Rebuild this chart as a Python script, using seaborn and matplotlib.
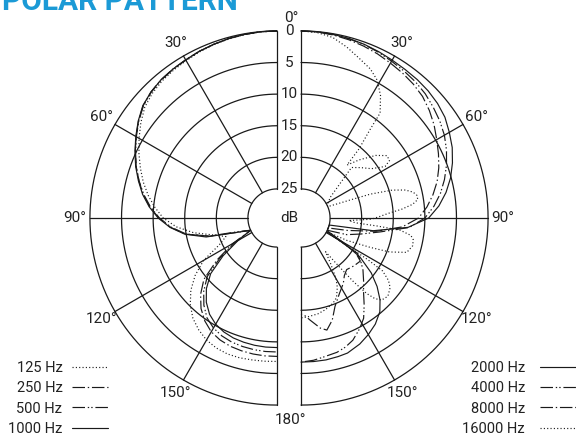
import numpy as np
import matplotlib
matplotlib.use("Agg")
import matplotlib.pyplot as plt
import seaborn as sns

sns.set_theme(style="white")
plt.rcParams["font.family"] = ["Roboto", "DejaVu Sans"]
plt.rcParams["lines.scale_dashes"] = False

# grid values
db_rings = [0, 5, 10, 15, 20, 25]
spoke_angles = [30, 60, 90, 120, 150]

# left half: low frequencies (angle in deg, attenuation in dB)
ang_left = [0, 5, 10, 15, 20, 25, 30, 35, 40, 45, 50, 55, 60, 65, 70, 75, 80, 85, 90,
            95, 100, 105, 110, 115, 120, 125, 130, 135, 140, 145, 150, 155, 160, 165, 170, 175, 180]
att_125 = [0, 0.03, 0.12, 0.25, 0.4, 0.6, 0.85, 1.05, 1.3, 1.7, 2.3, 3.3, 4.4, 5.5, 6.6, 7.7, 8.9, 10.2, 11.6,
           13.6, 16.2, 19.2, 21, 19.5, 16.2, 13.8, 11.8, 10.2, 8.9, 8.0, 7.3, 6.9, 6.7, 6.7, 6.8, 6.85, 6.9]
att_250 = [0, 0.02, 0.1, 0.2, 0.35, 0.5, 0.7, 0.85, 1.05, 1.4, 1.95, 2.85, 3.85, 4.85, 5.9, 7.0, 8.1, 9.4, 10.9,
           12.7, 14.9, 18.5, 23, 25, 21.5, 18.0, 14.5, 12.5, 10.9, 9.7, 8.8, 8.3, 8.0, 7.85, 7.75, 7.7, 7.7]
att_500 = [0, 0.02, 0.1, 0.2, 0.35, 0.5, 0.75, 0.9, 1.1, 1.45, 2.0, 2.9, 3.9, 4.9, 5.9, 7.0, 8.2, 9.5, 11.0,
           12.8, 15.0, 18.5, 23.5, 25, 22, 18.6, 15.2, 13.2, 11.6, 10.3, 9.5, 9.0, 8.7, 8.55, 8.45, 8.4, 8.4]
att_1000 = [0, 0.02, 0.1, 0.2, 0.35, 0.5, 0.7, 0.85, 1.05, 1.4, 1.9, 2.8, 3.8, 4.8, 5.8, 6.9, 8.0, 9.3, 10.8,
            12.6, 14.8, 18.0, 23.0, 25, 22.5, 19.2, 15.9, 13.8, 12.2, 11.0, 10.2, 9.7, 9.4, 9.25, 9.15, 9.1, 9.1]

# right half: high frequencies
ang_2000 = [0, 5, 10, 15, 20, 25, 30, 35, 40, 45, 50, 55, 60, 65, 70, 75, 80, 85, 90, 95, 100,
            104, 116, 120, 123.5, 128, 132, 136, 140, 145, 150, 155, 161, 165, 170, 175, 180]
att_2000 = [0, 0.02, 0.1, 0.2, 0.35, 0.55, 0.75, 0.9, 1.0, 1.15, 1.4, 1.8, 2.5, 3.2, 4.1, 5.1, 6.3, 7.7, 9.4, 12.6, 18,
            25, 25, 22, 18.4, 15.5, 13.4, 11.6, 10.2, 9.1, 8.3, 7.6, 7.0, 6.9, 6.8, 6.8, 6.8]
ang_4000 = [0, 5, 10, 15, 20, 25, 30, 35, 40, 45, 50, 55, 60, 65, 70, 75, 80, 85, 90, 95, 100,
            105, 110, 115, 118, 122, 126, 130, 135, 140, 144, 148, 152, 157, 161, 165, 171, 175, 180]
att_4000 = [0, 0.03, 0.12, 0.25, 0.4, 0.65, 0.95, 1.2, 1.45, 1.8, 2.3, 2.8, 3.4, 4.2, 5.1, 6.1, 7.2, 8.5, 10.0, 12.4, 16.9,
            19.8, 21.9, 25, 25, 19.1, 17.9, 16.8, 15.6, 14.2, 12.6, 10.9, 9.8, 8.6, 8.0, 7.6, 7.3, 7.0, 6.8]
ang_8000 = [0, 5, 10, 15, 20, 25, 30, 35, 40, 45, 50, 55, 60, 65, 70, 75, 80, 85, 90, 95, 100,
            105, 110, 118, 122, 126, 132, 138.5, 143, 147, 153, 159, 163, 167, 170, 175, 178, 180]
att_8000 = [0, 0.05, 0.2, 0.4, 0.65, 0.95, 1.3, 1.6, 1.95, 2.4, 3.1, 3.9, 4.8, 5.6, 6.4, 7.3, 8.4, 9.6, 11.0, 13.5, 17.5,
            22, 25, 25, 19.5, 18.0, 18.3, 18.7, 18.2, 17.3, 16.2, 14.6, 12.7, 11.4, 11.9, 13.4, 14.2, 14.4]
ang_16000 = [0, 5, 10, 15, 20, 25, 29, 33, 37, 38, 40, 41,
             45, 50, 54, 57, 58.5, 55, 50, 45, 48, 55, 65,
             67, 69, 70, 71, 73, 75, 77, 79, 81, 83, 85, 87, 89, 91, 93,
             95, 96, 97, 99, 101, 104, 108, 111, 113, 116, 118,
             121, 122, 123, 125.5, 128, 132, 135.5, 137.5, 139, 140.5, 142, 144,
             147, 150, 152.4, 156, 159.4, 165, 170, 176.5, 180]
att_16000 = [0, 0.15, 0.6, 1.6, 2.7, 3.6, 4.7, 6.5, 8.8, 11.9, 15.3, 18.5,
             16.6, 14.2, 12.8, 12.9, 14.0, 16.0, 17.2, 18.3, 21, 24, 25,
             25, 23, 21, 18, 14.5, 12.5, 11.4, 10.9, 10.9, 11.8, 13.6, 15.8, 17.2, 18.5, 22,
             21, 17.5, 13.8, 12.0, 11.5, 11.4, 12.0, 14.6, 17.7, 21.5, 25,
             21, 17, 14.2, 12.6, 11.7, 11.1, 11.4, 12.3, 13.8, 16.5, 20, 23,
             21, 18.5, 17.2, 15.8, 15.2, 14.6, 14.2, 13.9, 13.8]

left_curves = [("125 Hz", ang_left, att_125, (0, (0.8, 1.6))),
               ("250 Hz", ang_left, att_250, (0, (9, 2, 1, 2))),
               ("500 Hz", ang_left, att_500, (0, (9, 2, 1, 1.5, 1, 2))),
               ("1000 Hz", ang_left, att_1000, "-")]
right_curves = [("2000 Hz", ang_2000, att_2000, "-"),
                ("4000 Hz", ang_4000, att_4000, (0, (9, 2, 1, 1.5, 1, 2))),
                ("8000 Hz", ang_8000, att_8000, (0, (9, 2, 1, 2))),
                ("16000 Hz", ang_16000, att_16000, (0, (0.8, 1.6)))]

# geometry (1 unit = 1 dB)
R_IN = 4.6
R_OUT = R_IN + 25
GAP = 1.9
INK = "#1a1a1a"
TXT = "#222222"


def to_xy(theta, att, side):
    th = np.radians(np.asarray(theta, dtype=float))
    r = R_IN + 25 - np.clip(np.asarray(att, dtype=float), 0, 25)
    return side * (GAP + r * np.sin(th)), r * np.cos(th)


fig = plt.figure(figsize=(5.76, 4.41), dpi=100)
ax = fig.add_axes([0, 0, 1, 1])
ax.set_xlim(-289 / 6.32, 287 / 6.32)
ax.set_ylim(-223 / 6.32, 218 / 6.32)
ax.set_axis_off()

# polar grid, two half-discs
half = np.linspace(0, 180, 181)
for side in (-1, 1):
    for db in db_rings:
        x, y = to_xy(half, np.full_like(half, db), side)
        ax.plot(x, y, color=INK, lw=0.9)
    for a in [0] + spoke_angles + [180]:
        x, y = to_xy([a, a], [0, 25], side)
        ax.plot(x, y, color=INK, lw=0.9)

# curves
handles = {}
for side, curves in ((-1, left_curves), (1, right_curves)):
    for label, ang, att, ls in curves:
        x, y = to_xy(ang, att, side)
        sns.lineplot(x=x, y=y, sort=False, estimator=None, color=INK, lw=0.85,
                     linestyle=ls, ax=ax, legend=False)
        line = ax.get_lines()[-1]
        line.set_label(label)
        handles[label] = line

# ring labels and angle labels
for db in db_rings:
    ax.text(0, R_IN + 25 - db, str(db), ha="center", va="center", fontsize=11, color=TXT)
ax.text(0, 0, "dB", ha="center", va="center", fontsize=11, color=TXT)
ax.text(0.3, 31.6, "0°", ha="center", va="center", fontsize=11, color=TXT)
ax.text(0.3, -31.9, "180°", ha="center", va="center", fontsize=11, color=TXT)
for side in (-1, 1):
    for a in spoke_angles:
        th = np.radians(a)
        ax.text(side * (GAP + 32 * np.sin(th)), 32 * np.cos(th), f"{a}°",
                ha="center", va="center", fontsize=11, color=TXT)

# legends
leg1 = ax.legend(handles=[handles[c[0]] for c in left_curves], loc="lower right",
                 bbox_to_anchor=(108 / 576, 5 / 441), bbox_transform=fig.transFigure,
                 markerfirst=False, frameon=False, fontsize=10.5, labelspacing=0.44,
                 handlelength=2.5, handletextpad=0.62, borderpad=0, borderaxespad=0,
                 labelcolor=TXT)
ax.add_artist(leg1)
ax.legend(handles=[handles[c[0]] for c in right_curves], loc="lower right",
          bbox_to_anchor=(1.0, 5 / 441), bbox_transform=fig.transFigure,
          markerfirst=False, frameon=False, fontsize=10.5, labelspacing=0.44,
          handlelength=2.5, handletextpad=1.0, borderpad=0, borderaxespad=0,
          labelcolor=TXT)

fig.text(2 / 576, 1 - 10 / 441, "POLAR PATTERN", color="#1b9ad6", fontsize=21.5,
         fontweight="bold", ha="left", va="baseline")

fig.savefig("out.png", dpi=100)
